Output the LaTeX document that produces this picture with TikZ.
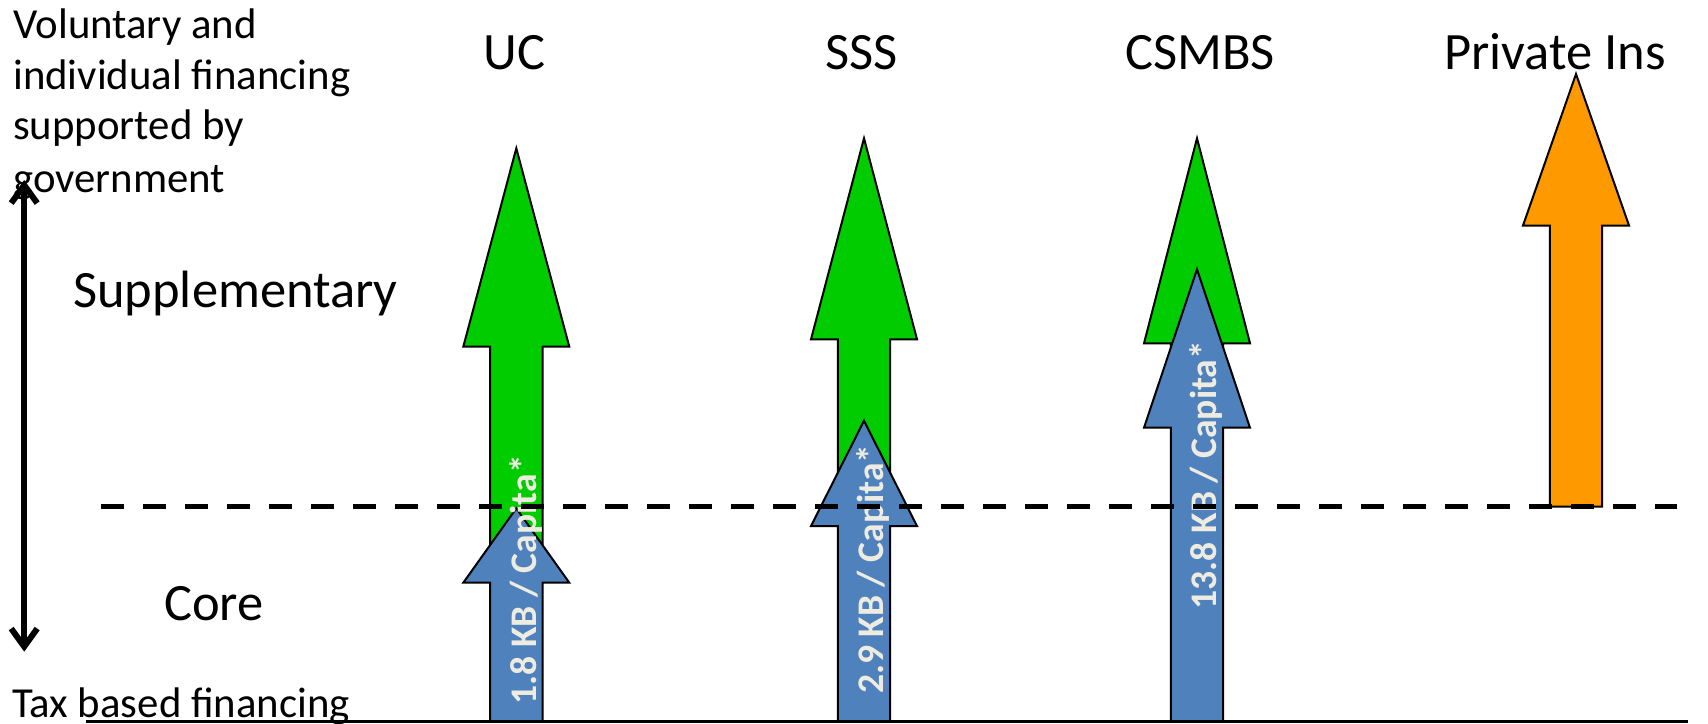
\documentclass[tikz,border=0pt]{standalone}
\usepackage{fontspec}
\setmainfont{Carlito}
\usetikzlibrary{arrows.meta}
\definecolor{ggreen}{HTML}{00CC00}
\definecolor{gblue}{HTML}{4F81BD}
\definecolor{gorange}{HTML}{FF9900}
\definecolor{gcream}{HTML}{EEECE1}
% #1 name, #2 colour, #3 centre x, #4 tip y, #5 head base y, #6 bottom y
\newcommand{\fatarrow}[6]{%
  \filldraw[fatarrowstyle,fill=#2] (#3,#4) coordinate (#1-tip)
    -- ({#3+53},#5) -- ({#3+26.2},#5) -- ({#3+26.2},#6) -- ({#3-26.2},#6)
    -- ({#3-26.2},#5) -- ({#3-53},#5) -- cycle;}
\tikzset{
  fatarrowstyle/.style={draw=black,line width=2pt,line join=miter},
  bigtext/.style={inner sep=0pt,font=\fontsize{52.5}{63}\selectfont},
  smalltext/.style={inner sep=0pt,anchor=base west,font=\fontsize{42.8}{51}\selectfont},
  valtext/.style={inner sep=0pt,rotate=90,anchor=base,text=gcream,font=\fontsize{37.6}{44}\selectfont\bfseries},
}
\begin{document}
\begin{tikzpicture}[x=1pt,y=-1pt]
\useasboundingbox (0,0) rectangle (1708,723);
\fill[white] (0,0) rectangle (1708,723);

% titles
\node[bigtext,anchor=base] (uc) at (514.7,69) {UC};
\node[bigtext,anchor=base] (sss) at (861.5,69) {SSS};
\node[bigtext,anchor=base] (csmbs) at (1200,69) {CSMBS};
\node[bigtext,anchor=base] (priv) at (1555,69) {Private Ins};

% left texts
\node[smalltext] (vol1) at (13,38.5) {Voluntary and};
\node[smalltext] (vol2) at (13,89.5) {individual financing};
\node[smalltext] (vol3) at (13,139.5) {supported by};
\node[smalltext] (vol4) at (13,192.5) {government};
\node[bigtext,anchor=base west] (supp) at (73,307.3) {Supplementary};
\node[bigtext,anchor=base west] (core) at (164,620) {Core};
\node[smalltext] (tax) at (12,717) {Tax based financing};

% left double arrow
\coordinate (axTop) at (24.2,180);
\coordinate (axBot) at (24.2,651.7);
\draw[line width=6pt,{Straight Barb[length=18pt,width=26pt]}-{Straight Barb[length=18pt,width=26pt]}] (axTop) -- (axBot);

% green arrows
\fatarrow{ucG}{ggreen}{516.3}{148.3}{346.7}{582}
\fatarrow{sssG}{ggreen}{864}{138.3}{339.3}{526}
\fatarrow{csG}{ggreen}{1197}{138.3}{343.3}{427}
% orange
\fatarrow{prG}{gorange}{1576}{74}{225.5}{506.5}
% blue arrows
\fatarrow{ucB}{gblue}{516.3}{508.3}{582.7}{721.7}
\fatarrow{sssB}{gblue}{864}{420.7}{526}{721.7}
\fatarrow{csB}{gblue}{1197}{269.3}{427.7}{721.7}

% value labels
\node[valtext] (ucv) at (536.7,580) {1.8 KB / Capita*};
\node[valtext] (sssv) at (883.3,569.2) {2.9 KB / Capita*};
\node[valtext] (csv) at (1216.5,475) {13.8 KB / Capita*};

% dashed boundary
\coordinate (dashL) at (101,506.7);
\coordinate (dashR) at (1677,506.7);
\draw[line width=5.5pt,dash pattern=on 23pt off 19pt] (dashL) -- (dashR);

% baseline
\coordinate (baseL) at (85.7,721.6);
\coordinate (baseR) at (1688,721.6);
\draw[line width=2.5pt] (baseL) -- (baseR);
\end{tikzpicture}
\end{document}
